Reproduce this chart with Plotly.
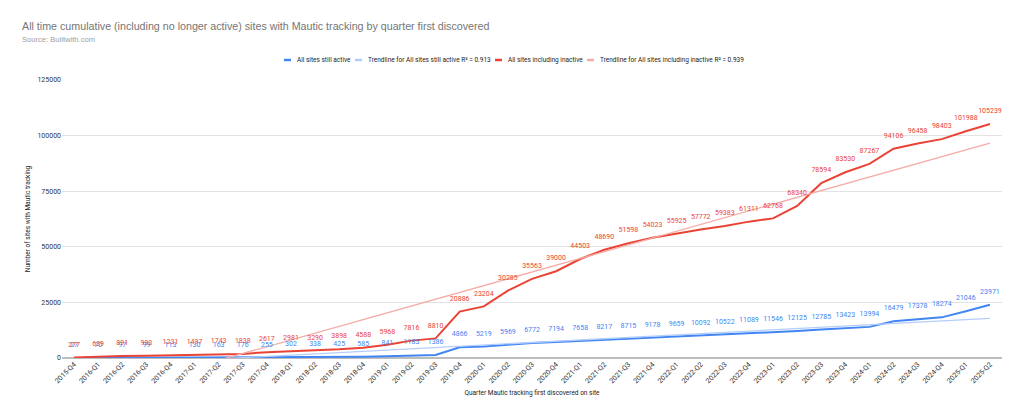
import numpy as np
import plotly.graph_objects as go

quarters = [
    "2015-Q4",
    "2016-Q1", "2016-Q2", "2016-Q3", "2016-Q4",
    "2017-Q1", "2017-Q2", "2017-Q3", "2017-Q4",
    "2018-Q1", "2018-Q2", "2018-Q3", "2018-Q4",
    "2019-Q1", "2019-Q2", "2019-Q3", "2019-Q4",
    "2020-Q1", "2020-Q2", "2020-Q3", "2020-Q4",
    "2021-Q1", "2021-Q2", "2021-Q3", "2021-Q4",
    "2022-Q1", "2022-Q2", "2022-Q3", "2022-Q4",
    "2023-Q1", "2023-Q2", "2023-Q3", "2023-Q4",
    "2024-Q1", "2024-Q2", "2024-Q3", "2024-Q4",
    "2025-Q1", "2025-Q2",
]

still_active = [
    27, 70, 97, 99, 113, 130, 163, 176, 255, 302, 338, 425, 585,
    841, 1183, 1386, 4866, 5219, 5969, 6772, 7194, 7658, 8217, 8715,
    9178, 9659, 10092, 10522, 11089, 11546, 12125, 12785, 13423, 13994,
    16479, 17378, 18274, 21046, 23971,
]

including_inactive = [
    277, 639, 891, 993, 1231, 1497, 1743, 1838, 2617, 2981, 3290, 3898,
    4588, 5968, 7816, 8810, 20886, 23204, 30285, 35563, 39000, 44503,
    48690, 51598, 54023, 55925, 57772, 59383, 61311, 62768, 68340, 78594,
    83530, 87267, 94106, 96458, 98403, 101988, 105239,
]

BLUE = "#4285f4"
RED = "#ea4335"
BLUE_TREND = "#b3cefb"
RED_TREND = "#f5aca6"
FONT = "Roboto, Arial, sans-serif"
TITLE_FONT = "Liberation Sans, Arial, sans-serif"

# plot box in pixels, used to place the hand made legend
PLOT_LEFT, PLOT_W = 62, 940
PLOT_BOTTOM, PLOT_H = 358, 278


def trendline(values):
    # linear least squares trend, like the spreadsheet trendline
    idx = np.arange(len(values))
    slope, intercept = np.polyfit(idx, values, 1)
    return slope * idx + intercept


def value_labels(values, color):
    # invisible markers so the labels sit a bit above the line
    return go.Scatter(
        x=quarters, y=values, mode="markers+text", showlegend=False,
        marker=dict(size=13, opacity=0, color=color),
        text=[str(v) for v in values], textposition="top center",
        textfont=dict(color=color, size=7, family=FONT),
        hoverinfo="skip",
    )


fig = go.Figure()

series = [
    ("All sites still active", still_active, BLUE, 2),
    ("Trendline for All sites still active R² = 0.913", trendline(still_active), BLUE_TREND, 1.3),
    ("All sites including inactive", including_inactive, RED, 2),
    ("Trendline for All sites including inactive R² = 0.939", trendline(including_inactive), RED_TREND, 1.3),
]
for name, ys, color, width in series:
    fig.add_trace(go.Scatter(
        x=quarters, y=ys, mode="lines", name=name, showlegend=False,
        line=dict(color=color, width=width),
    ))
fig.add_trace(value_labels(still_active, BLUE))
fig.add_trace(value_labels(including_inactive, RED))

# compact legend like the sheets one: short dash + label
legend_x = [284, 355, 495, 587]
legend_y = (PLOT_BOTTOM - 60) / PLOT_H
shapes = []
annotations = []
for (name, _, color, _), px in zip(series, legend_x):
    x0 = (px - PLOT_LEFT) / PLOT_W
    x1 = (px + 7 - PLOT_LEFT) / PLOT_W
    shapes.append(dict(type="line", xref="paper", yref="paper",
                       x0=x0, x1=x1, y0=legend_y, y1=legend_y,
                       line=dict(color=color, width=2.5)))
    annotations.append(dict(text=name, xref="paper", yref="paper",
                            x=(px + 11 - PLOT_LEFT) / PLOT_W, y=legend_y,
                            xanchor="left", yanchor="middle", showarrow=False,
                            font=dict(size=6.5, color="#222222", family=FONT)))

annotations += [
    dict(text="All time cumulative (including no longer active) sites with Mautic tracking by quarter first discovered",
         xref="paper", yref="paper", x=-0.045, y=1.0, xanchor="left", yanchor="middle",
         yshift=54, showarrow=False,
         font=dict(family=TITLE_FONT, size=10.7, color="#757575")),
    dict(text="Source: Builtwith.com",
         xref="paper", yref="paper", x=-0.045, y=1.0, xanchor="left", yanchor="middle",
         yshift=41, showarrow=False,
         font=dict(family=TITLE_FONT, size=7.6, color="#9e9e9e")),
]

fig.update_layout(
    width=1024, height=418,
    margin=dict(l=54, r=30, t=72, b=68),
    paper_bgcolor="white", plot_bgcolor="white",
    font=dict(family=FONT, size=7, color="#333333"),
    showlegend=False,
    xaxis=dict(
        type="category", range=[-0.5, 38.5], tickangle=-45, showgrid=False,
        tickfont=dict(size=7, color="#333333"),
        title=dict(text="Quarter Mautic tracking first discovered on site",
                   font=dict(size=6.5, color="#222222"), standoff=6),
        showline=False, ticks="",
    ),
    yaxis=dict(
        range=[0, 125000], dtick=25000, tickformat="d", automargin=False,
        gridcolor="#e3e3e3", gridwidth=1,
        zeroline=True, zerolinecolor="#bdbdbd", zerolinewidth=2,
        tickfont=dict(size=7, color="#333333"),
        title=dict(text="Number of sites with Mautic tracking",
                   font=dict(size=6.5, color="#222222"), standoff=6),
    ),
    shapes=shapes,
    annotations=annotations,
)

fig.write_html("out.html")
